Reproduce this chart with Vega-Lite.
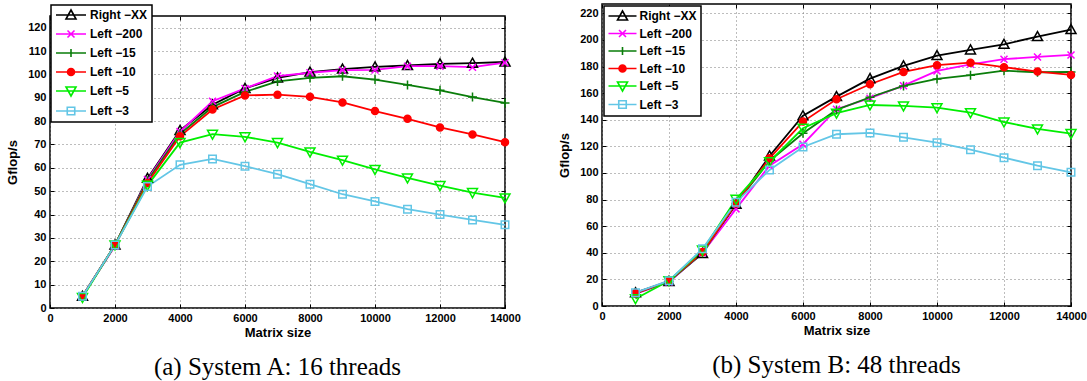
{
  "$schema": "https://vega.github.io/schema/vega-lite/v6.json",
  "background": "white",
  "padding": {"left": 5, "top": 2, "right": 0, "bottom": 0},
  "spacing": 35,
  "resolve": {
    "scale": {"color": "independent", "shape": "independent", "fill": "independent"},
    "legend": {"color": "independent", "shape": "independent", "fill": "independent"}
  },
  "datasets": {
    "a": [
      {"x":1000,"s":"Right-XX","v":5},{"x":2000,"s":"Right-XX","v":27},{"x":3000,"s":"Right-XX","v":55.5},{"x":4000,"s":"Right-XX","v":76},{"x":5000,"s":"Right-XX","v":87},{"x":6000,"s":"Right-XX","v":94},{"x":7000,"s":"Right-XX","v":98.5},{"x":8000,"s":"Right-XX","v":101},{"x":9000,"s":"Right-XX","v":102.3},{"x":10000,"s":"Right-XX","v":103.2},{"x":11000,"s":"Right-XX","v":103.8},{"x":12000,"s":"Right-XX","v":104.5},{"x":13000,"s":"Right-XX","v":104.8},{"x":14000,"s":"Right-XX","v":105.3},
      {"x":1000,"s":"Left-200","v":5},{"x":2000,"s":"Left-200","v":26.5},{"x":3000,"s":"Left-200","v":55},{"x":4000,"s":"Left-200","v":75.5},{"x":5000,"s":"Left-200","v":88.5},{"x":6000,"s":"Left-200","v":94},{"x":7000,"s":"Left-200","v":99.3},{"x":8000,"s":"Left-200","v":100.7},{"x":9000,"s":"Left-200","v":101.8},{"x":10000,"s":"Left-200","v":101.9},{"x":11000,"s":"Left-200","v":103.5},{"x":12000,"s":"Left-200","v":103.5},{"x":13000,"s":"Left-200","v":103.1},{"x":14000,"s":"Left-200","v":105},
      {"x":1000,"s":"Left-15","v":5},{"x":2000,"s":"Left-15","v":27},{"x":3000,"s":"Left-15","v":54.5},{"x":4000,"s":"Left-15","v":74.5},{"x":5000,"s":"Left-15","v":86},{"x":6000,"s":"Left-15","v":92.5},{"x":7000,"s":"Left-15","v":97},{"x":8000,"s":"Left-15","v":98.5},{"x":9000,"s":"Left-15","v":99.2},{"x":10000,"s":"Left-15","v":97.8},{"x":11000,"s":"Left-15","v":95.5},{"x":12000,"s":"Left-15","v":93.2},{"x":13000,"s":"Left-15","v":90.3},{"x":14000,"s":"Left-15","v":87.8},
      {"x":1000,"s":"Left-10","v":5},{"x":2000,"s":"Left-10","v":27},{"x":3000,"s":"Left-10","v":53.5},{"x":4000,"s":"Left-10","v":73.5},{"x":5000,"s":"Left-10","v":85},{"x":6000,"s":"Left-10","v":91},{"x":7000,"s":"Left-10","v":91.3},{"x":8000,"s":"Left-10","v":90.4},{"x":9000,"s":"Left-10","v":88},{"x":10000,"s":"Left-10","v":84.3},{"x":11000,"s":"Left-10","v":81},{"x":12000,"s":"Left-10","v":77.3},{"x":13000,"s":"Left-10","v":74.3},{"x":14000,"s":"Left-10","v":71},
      {"x":1000,"s":"Left-5","v":4.5},{"x":2000,"s":"Left-5","v":27},{"x":3000,"s":"Left-5","v":52.5},{"x":4000,"s":"Left-5","v":70.8},{"x":5000,"s":"Left-5","v":74.4},{"x":6000,"s":"Left-5","v":73.3},{"x":7000,"s":"Left-5","v":70.8},{"x":8000,"s":"Left-5","v":66.8},{"x":9000,"s":"Left-5","v":63.3},{"x":10000,"s":"Left-5","v":59.3},{"x":11000,"s":"Left-5","v":55.7},{"x":12000,"s":"Left-5","v":52.4},{"x":13000,"s":"Left-5","v":49.4},{"x":14000,"s":"Left-5","v":47.1},
      {"x":1000,"s":"Left-3","v":5},{"x":2000,"s":"Left-3","v":27},{"x":3000,"s":"Left-3","v":52},{"x":4000,"s":"Left-3","v":61.3},{"x":5000,"s":"Left-3","v":63.8},{"x":6000,"s":"Left-3","v":60.7},{"x":7000,"s":"Left-3","v":57.3},{"x":8000,"s":"Left-3","v":53},{"x":9000,"s":"Left-3","v":48.7},{"x":10000,"s":"Left-3","v":45.6},{"x":11000,"s":"Left-3","v":42.3},{"x":12000,"s":"Left-3","v":40},{"x":13000,"s":"Left-3","v":37.7},{"x":14000,"s":"Left-3","v":35.6}
    ],
    "b": [
      {"x":1000,"s":"Right-XX","v":10},{"x":2000,"s":"Right-XX","v":18.5},{"x":3000,"s":"Right-XX","v":39.5},{"x":4000,"s":"Right-XX","v":76.5},{"x":5000,"s":"Right-XX","v":112.8},{"x":6000,"s":"Right-XX","v":143},{"x":7000,"s":"Right-XX","v":157.4},{"x":8000,"s":"Right-XX","v":170.9},{"x":9000,"s":"Right-XX","v":180.5},{"x":10000,"s":"Right-XX","v":188.2},{"x":11000,"s":"Right-XX","v":192.5},{"x":12000,"s":"Right-XX","v":196.7},{"x":13000,"s":"Right-XX","v":202.5},{"x":14000,"s":"Right-XX","v":207.8},
      {"x":1000,"s":"Left-200","v":9},{"x":2000,"s":"Left-200","v":18},{"x":3000,"s":"Left-200","v":40},{"x":4000,"s":"Left-200","v":73},{"x":5000,"s":"Left-200","v":105.5},{"x":6000,"s":"Left-200","v":121.6},{"x":7000,"s":"Left-200","v":147.9},{"x":8000,"s":"Left-200","v":156.2},{"x":9000,"s":"Left-200","v":165.6},{"x":10000,"s":"Left-200","v":176.7},{"x":11000,"s":"Left-200","v":181.7},{"x":12000,"s":"Left-200","v":185.5},{"x":13000,"s":"Left-200","v":187.2},{"x":14000,"s":"Left-200","v":188.7},
      {"x":1000,"s":"Left-15","v":9.5},{"x":2000,"s":"Left-15","v":18.5},{"x":3000,"s":"Left-15","v":40},{"x":4000,"s":"Left-15","v":77},{"x":5000,"s":"Left-15","v":109},{"x":6000,"s":"Left-15","v":129.8},{"x":7000,"s":"Left-15","v":147.4},{"x":8000,"s":"Left-15","v":156.9},{"x":9000,"s":"Left-15","v":165.4},{"x":10000,"s":"Left-15","v":170.7},{"x":11000,"s":"Left-15","v":173.5},{"x":12000,"s":"Left-15","v":176.9},{"x":13000,"s":"Left-15","v":175.7},{"x":14000,"s":"Left-15","v":175.9},
      {"x":1000,"s":"Left-10","v":9.5},{"x":2000,"s":"Left-10","v":19},{"x":3000,"s":"Left-10","v":40.5},{"x":4000,"s":"Left-10","v":77},{"x":5000,"s":"Left-10","v":111},{"x":6000,"s":"Left-10","v":138.6},{"x":7000,"s":"Left-10","v":155.4},{"x":8000,"s":"Left-10","v":166.7},{"x":9000,"s":"Left-10","v":175.9},{"x":10000,"s":"Left-10","v":181},{"x":11000,"s":"Left-10","v":182.9},{"x":12000,"s":"Left-10","v":179.5},{"x":13000,"s":"Left-10","v":176.2},{"x":14000,"s":"Left-10","v":173.7},
      {"x":1000,"s":"Left-5","v":5.5},{"x":2000,"s":"Left-5","v":19},{"x":3000,"s":"Left-5","v":42},{"x":4000,"s":"Left-5","v":80.2},{"x":5000,"s":"Left-5","v":108.5},{"x":6000,"s":"Left-5","v":133.6},{"x":7000,"s":"Left-5","v":144.9},{"x":8000,"s":"Left-5","v":151.1},{"x":9000,"s":"Left-5","v":150.4},{"x":10000,"s":"Left-5","v":149.1},{"x":11000,"s":"Left-5","v":145.3},{"x":12000,"s":"Left-5","v":138.3},{"x":13000,"s":"Left-5","v":133.1},{"x":14000,"s":"Left-5","v":129.6},
      {"x":1000,"s":"Left-3","v":10},{"x":2000,"s":"Left-3","v":19},{"x":3000,"s":"Left-3","v":43},{"x":4000,"s":"Left-3","v":78},{"x":5000,"s":"Left-3","v":102.3},{"x":6000,"s":"Left-3","v":119.5},{"x":7000,"s":"Left-3","v":129.1},{"x":8000,"s":"Left-3","v":130.1},{"x":9000,"s":"Left-3","v":126.8},{"x":10000,"s":"Left-3","v":122.8},{"x":11000,"s":"Left-3","v":117.5},{"x":12000,"s":"Left-3","v":111.5},{"x":13000,"s":"Left-3","v":105.5},{"x":14000,"s":"Left-3","v":100.5}
    ]
  },
  "config": {
    "view": {"stroke": "#000000", "strokeWidth": 1.5},
    "axis": {
      "labelFont": "Liberation Sans", "labelFontWeight": "bold", "labelFontSize": 11, "labelColor": "#000000",
      "titleFont": "Liberation Sans", "titleFontWeight": "bold", "titleFontSize": 13, "titleColor": "#000000",
      "grid": true, "gridColor": "#7a7a7a", "gridDash": [1, 3], "gridWidth": 1,
      "domain": false, "ticks": true, "tickSize": -4, "tickColor": "#000000", "tickWidth": 1,
      "labelPadding": 8, "labelFlush": false
    },
    "axisX": {"titlePadding": 3},
    "axisY": {"titlePadding": 8},
    "legend": {
      "labelFont": "Liberation Sans", "labelFontWeight": "bold", "labelFontSize": 12, "labelColor": "#000000",
      "strokeColor": "#000000", "fillColor": "#ffffff", "strokeWidth": 1.5
    },
    "title": {"font": "Liberation Serif", "fontSize": 25, "fontWeight": "normal", "color": "#000000"}
  },
  "hconcat": [
    {
      "spacing": 0,
      "vconcat": [
        {
          "width": 455,
          "height": 10,
          "data": {"name": "a"},
          "view": {"stroke": null},
          "mark": {"type": "point", "opacity": 0}
        },
        {
          "width": 455,
          "height": 292,
          "data": {"name": "a"},
          "title": {"text": "(a) System A: 16 threads", "orient": "bottom", "frame": "group", "offset": 16},
          "resolve": {"axis": {"x": "independent", "y": "independent"}},
          "layer": [
            {
              "encoding": {
                "x": {"field": "x", "type": "quantitative", "scale": {"domain": [0, 14000], "nice": false}, "axis": {"values": [0, 2000, 4000, 6000, 8000, 10000, 12000, 14000], "format": "d", "title": "Matrix size"}},
                "y": {"field": "v", "type": "quantitative", "scale": {"domain": [0, 125], "nice": false}, "axis": {"values": [0, 10, 20, 30, 40, 50, 60, 70, 80, 90, 100, 110, 120], "title": "Gflop/s"}},
                "color": {
                  "field": "s", "type": "nominal",
                  "scale": {"domain": ["Right-XX", "Left-200", "Left-15", "Left-10", "Left-5", "Left-3"], "range": ["#000000", "#ff00ff", "#0a7d0a", "#ff0000", "#00ee00", "#63c6e6"]},
                  "legend": {
                    "orient": "top-left", "offset": 1, "title": null, "padding": 4, "rowPadding": 4,
                    "symbolSize": 100, "symbolStrokeWidth": 1.6, "symbolOffset": 10, "labelOffset": 13,
                    "labelExpr": "replace(datum.label, '-', ' \u2212')",
                    "encoding": {
                      "symbols": {
                        "shape": {"condition": [
                          {"test": "datum.value === 'Right-XX'", "value": "M-3,0H3M0,-1L1,0.8L-1,0.8Z"},
                          {"test": "datum.value === 'Left-200'", "value": "M-3,0H3M-0.7,-0.7L0.7,0.7M-0.7,0.7L0.7,-0.7"},
                          {"test": "datum.value === 'Left-15'", "value": "M-3,0H3M0,-0.8V0.8"},
                          {"test": "datum.value === 'Left-10'", "value": "M-3,0H3M-0.7,0A0.7,0.7,0,1,1,0.7,0A0.7,0.7,0,1,1,-0.7,0Z"},
                          {"test": "datum.value === 'Left-5'", "value": "M-3,0H3M0,1L1,-0.8L-1,-0.8Z"}
                        ], "value": "M-3,0H3M-0.75,-0.75H0.75V0.75H-0.75Z"},
                        "fill": {"condition": {"test": "datum.value === 'Left-10'", "value": "#ff0000"}, "value": "transparent"},
                        "opacity": {"value": 1}
                      }
                    }
                  }
                }
              },
              "layer": [
                {"mark": {"type": "line", "strokeWidth": 1.8}},
                {
                  "mark": {"type": "point", "filled": false, "size": 100, "strokeWidth": 1.5, "opacity": 1},
                  "encoding": {
                    "shape": {"field": "s", "type": "nominal", "legend": null,
                      "scale": {"domain": ["Left-3", "Left-5", "Left-10", "Left-15", "Left-200", "Right-XX"],
                        "range": ["M-0.75,-0.75H0.75V0.75H-0.75Z", "M0,1L1,-0.8L-1,-0.8Z", "M-0.7,0A0.7,0.7,0,1,1,0.7,0A0.7,0.7,0,1,1,-0.7,0Z", "M-0.9,0H0.9M0,-0.9V0.9", "M-0.7,-0.7L0.7,0.7M-0.7,0.7L0.7,-0.7", "M0,-1L1,0.8L-1,0.8Z"]}},
                    "fill": {"field": "s", "type": "nominal", "legend": null,
                      "scale": {"domain": ["Left-10", "Right-XX", "Left-200", "Left-15", "Left-5", "Left-3"],
                        "range": ["#ff0000", "transparent", "transparent", "transparent", "transparent", "transparent"]}}
                  }
                }
              ]
            },
            {
              "mark": {"type": "point", "opacity": 0},
              "encoding": {
                "x": {"field": "x", "type": "quantitative", "scale": {"domain": [0, 14000], "nice": false},
                  "axis": {"orient": "top", "values": [0, 2000, 4000, 6000, 8000, 10000, 12000, 14000], "labels": false, "grid": false, "title": null}},
                "y": {"field": "v", "type": "quantitative", "scale": {"domain": [0, 125], "nice": false},
                  "axis": {"orient": "right", "values": [0, 10, 20, 30, 40, 50, 60, 70, 80, 90, 100, 110, 120], "labels": false, "grid": false, "title": null}}
              }
            }
          ]
        }
      ]
    },
    {
      "width": 469,
      "height": 302,
      "data": {"name": "b"},
      "title": {"text": "(b) System B: 48 threads", "orient": "bottom", "frame": "group", "offset": 16},
      "resolve": {"axis": {"x": "independent", "y": "independent"}},
      "layer": [
        {
          "encoding": {
            "x": {"field": "x", "type": "quantitative", "scale": {"domain": [0, 14000], "nice": false}, "axis": {"values": [0, 2000, 4000, 6000, 8000, 10000, 12000, 14000], "format": "d", "title": "Matrix size"}},
            "y": {"field": "v", "type": "quantitative", "scale": {"domain": [0, 227], "nice": false}, "axis": {"values": [0, 20, 40, 60, 80, 100, 120, 140, 160, 180, 200, 220], "title": "Gflop/s"}},
            "color": {
              "field": "s", "type": "nominal",
              "scale": {"domain": ["Right-XX", "Left-200", "Left-15", "Left-10", "Left-5", "Left-3"], "range": ["#000000", "#ff00ff", "#0a7d0a", "#ff0000", "#00ee00", "#63c6e6"]},
              "legend": {
                "orient": "top-left", "offset": 2, "title": null, "padding": 4, "rowPadding": 2.5,
                "symbolSize": 100, "symbolStrokeWidth": 1.6, "symbolOffset": 8.5, "labelOffset": 11,
                "labelExpr": "replace(datum.label, '-', ' \u2212')",
                "encoding": {
                  "symbols": {
                    "shape": {"condition": [
                      {"test": "datum.value === 'Right-XX'", "value": "M-2.8,0H2.8M0,-1L1,0.8L-1,0.8Z"},
                      {"test": "datum.value === 'Left-200'", "value": "M-2.8,0H2.8M-0.7,-0.7L0.7,0.7M-0.7,0.7L0.7,-0.7"},
                      {"test": "datum.value === 'Left-15'", "value": "M-2.8,0H2.8M0,-0.8V0.8"},
                      {"test": "datum.value === 'Left-10'", "value": "M-2.8,0H2.8M-0.7,0A0.7,0.7,0,1,1,0.7,0A0.7,0.7,0,1,1,-0.7,0Z"},
                      {"test": "datum.value === 'Left-5'", "value": "M-2.8,0H2.8M0,1L1,-0.8L-1,-0.8Z"}
                    ], "value": "M-2.8,0H2.8M-0.75,-0.75H0.75V0.75H-0.75Z"},
                    "fill": {"condition": {"test": "datum.value === 'Left-10'", "value": "#ff0000"}, "value": "transparent"},
                    "opacity": {"value": 1}
                  }
                }
              }
            }
          },
          "layer": [
            {"mark": {"type": "line", "strokeWidth": 1.8}},
            {
              "mark": {"type": "point", "filled": false, "size": 100, "strokeWidth": 1.5, "opacity": 1},
              "encoding": {
                "shape": {"field": "s", "type": "nominal", "legend": null,
                  "scale": {"domain": ["Left-3", "Left-5", "Left-10", "Left-15", "Left-200", "Right-XX"],
                    "range": ["M-0.75,-0.75H0.75V0.75H-0.75Z", "M0,1L1,-0.8L-1,-0.8Z", "M-0.7,0A0.7,0.7,0,1,1,0.7,0A0.7,0.7,0,1,1,-0.7,0Z", "M-0.9,0H0.9M0,-0.9V0.9", "M-0.7,-0.7L0.7,0.7M-0.7,0.7L0.7,-0.7", "M0,-1L1,0.8L-1,0.8Z"]}},
                "fill": {"field": "s", "type": "nominal", "legend": null,
                  "scale": {"domain": ["Left-10", "Right-XX", "Left-200", "Left-15", "Left-5", "Left-3"],
                    "range": ["#ff0000", "transparent", "transparent", "transparent", "transparent", "transparent"]}}
              }
            }
          ]
        },
        {
          "mark": {"type": "point", "opacity": 0},
          "encoding": {
            "x": {"field": "x", "type": "quantitative", "scale": {"domain": [0, 14000], "nice": false},
              "axis": {"orient": "top", "values": [0, 2000, 4000, 6000, 8000, 10000, 12000, 14000], "labels": false, "grid": false, "title": null}},
            "y": {"field": "v", "type": "quantitative", "scale": {"domain": [0, 227], "nice": false},
              "axis": {"orient": "right", "values": [0, 20, 40, 60, 80, 100, 120, 140, 160, 180, 200, 220], "labels": false, "grid": false, "title": null}}
          }
        }
      ]
    }
  ]
}
